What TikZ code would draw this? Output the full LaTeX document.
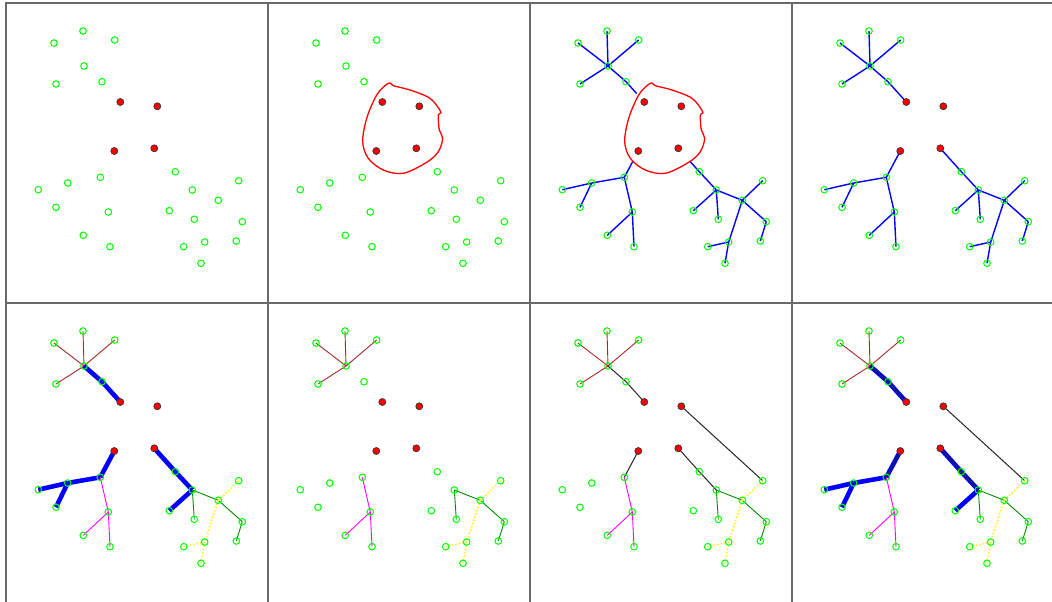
\documentclass[tikz,border=0pt]{standalone}
\usetikzlibrary{calc}
\definecolor{treebrown}{RGB}{165,42,42}
\definecolor{treegreen}{RGB}{0,140,0}
\definecolor{treepink}{RGB}{255,0,255}
\definecolor{framegray}{RGB}{105,105,105}
% point positions, measured inside one panel
\newcommand\pointset{%
  \foreach \n/\x/\y in {a1/54/43,a2/83/31,a3/114.7/40,a4/84/66,a5/56/84,a6/102/81.7,
    r1/120.3/102,r2/157.3/106.3,r3/114.3/151,r4/154.3/148.3,
    b1/38.3/189.7,b2/67.7/183,b3/100.3/177.3,b4/56/207.3,b5/108.3/212,b6/83.3/235.3,b7/110/246.7,
    c1/175.3/171.7,c2/192.3/190,c3/238.7/180.7,c4/218.3/200.3,c5/169.3/210.7,c6/194.3/219.3,
    c7/242.3/221.7,c8/183.7/246.7,c9/204.7/242,c10/236.3/241,c11/201/263.3}
    \coordinate (\n) at (\x,\y);}
\newcommand\markers{%
  \foreach \n in {a1,a2,a3,a4,a5,a6,b1,b2,b3,b4,b5,b6,b7,c1,c2,c3,c4,c5,c6,c7,c8,c9,c10,c11}
    \node[gpt] at (\n) {};
  \foreach \n in {r1,r2,r3,r4} \node[rpt] at (\n) {};}
\newcommand\links[2]{\edef\linklist{#2}\foreach \u/\v in \linklist \draw[#1] (\u) -- (\v);}
\newcommand\hullcurve{%
  \draw[hull] plot[smooth cycle,tension=0.55] coordinates {(128.7,83.3) (131.3,85.7) (148,90) (168,98.3)
    (178.7,111.7) (176.3,115) (177.3,130) (180.7,138.3) (176.3,151.7) (164.7,162.3) (141.3,173.3)
    (121.3,170) (106.3,158.3) (100.7,141.7) (104.7,118.3) (114.7,95) (124.7,84.3)};}
% edge groups
\newcommand\starsub{a4/a1,a4/a2,a4/a3,a4/a5}
\newcommand\leftsub{b3/b5,b5/b6,b5/b7}
\newcommand\greensub{c2/c6,c2/c4,c4/c7,c7/c10}
\newcommand\yellowsub{c4/c3,c4/c9,c9/c8,c9/c11}
\begin{document}
\begin{tikzpicture}[x=1pt,y=-1pt,
  gpt/.style={circle,draw=green,line width=1pt,minimum size=6.6pt,inner sep=0pt},
  rpt/.style={circle,draw=black!80,fill=red,line width=0.7pt,minimum size=7pt,inner sep=0pt},
  frame/.style={draw=framegray,line width=1.4pt},
  hull/.style={draw=red,line width=1.3pt},
  thin blue/.style={blue,line width=1.4pt},
  thick blue/.style={blue,line width=4.6pt},
  brown edge/.style={treebrown,line width=0.9pt},
  pink edge/.style={treepink,line width=0.9pt},
  green edge/.style={treegreen,line width=0.9pt},
  yellow edge/.style={yellow,line width=1.4pt,dotted},
  black edge/.style={black!85,line width=1pt}]
\useasboundingbox (0,0) rectangle (1052,602);
\fill[white] (0,0) rectangle (1052,602);
% Panel grid
\foreach \i in {0,...,3} \foreach \j in {0,1} \draw[frame] (6+262*\i,3+300*\j) rectangle ++(262,300);
% Panel 1: points only
\begin{scope}
\pointset
\markers
\end{scope}
% Panel 2: hull round the red points
\begin{scope}[shift={(262,0)}]
\pointset
\hullcurve
\markers
\end{scope}
% Panel 3: blue trees cut at the hull
\begin{scope}[shift={(524,0)}]
\pointset
\coordinate (k1) at ($(a6)!0.58!(r1)$);
\coordinate (k3) at ($(b3)!0.6!(r3)$);
\coordinate (k4) at ($(c1)!0.44!(r4)$);
\links{thin blue}{\starsub,a4/a6,a6/k1,b1/b2,b2/b3,b2/b4,b3/k3,\leftsub,k4/c1,c1/c2,c2/c5,\greensub,\yellowsub}
\hullcurve
\markers
\end{scope}
% Panel 4: blue trees joined to the red points
\begin{scope}[shift={(786,0)}]
\pointset
\links{thin blue}{\starsub,a4/a6,a6/r1,b1/b2,b2/b3,b2/b4,b3/r3,\leftsub,r4/c1,c1/c2,c2/c5,\greensub,\yellowsub}
\markers
\end{scope}
% Panel 5: coloured subtrees, thick paths
\begin{scope}[shift={(0,300)}]
\pointset
\links{brown edge}{\starsub}
\links{thick blue}{a4/a6,a6/r1,b1/b2,b2/b3,b2/b4,b3/r3,r4/c1,c1/c2,c2/c5}
\links{pink edge}{\leftsub}
\links{green edge}{\greensub}
\links{yellow edge}{\yellowsub}
\markers
\end{scope}
% Panel 6: coloured subtrees only
\begin{scope}[shift={(262,300)}]
\pointset
\links{brown edge}{\starsub}
\links{pink edge}{\leftsub}
\links{green edge}{\greensub}
\links{yellow edge}{\yellowsub}
\markers
\end{scope}
% Panel 7: black joins
\begin{scope}[shift={(524,300)}]
\pointset
\links{brown edge}{\starsub}
\links{black edge}{a4/a6,a6/r1,b3/r3,r4/c1,c1/c2,r2/c3}
\links{pink edge}{\leftsub}
\links{green edge}{\greensub}
\links{yellow edge}{\yellowsub}
\markers
\end{scope}
% Panel 8: thick paths and black joins
\begin{scope}[shift={(786,300)}]
\pointset
\links{brown edge}{\starsub}
\links{thick blue}{a4/a6,a6/r1,b1/b2,b2/b3,b2/b4,b3/r3,r4/c1,c1/c2,c2/c5}
\links{black edge}{a4/a6,a6/r1,b3/r3,r4/c1,c1/c2,r2/c3}
\links{pink edge}{\leftsub}
\links{green edge}{\greensub}
\links{yellow edge}{\yellowsub}
\markers
\end{scope}
\end{tikzpicture}
\end{document}
